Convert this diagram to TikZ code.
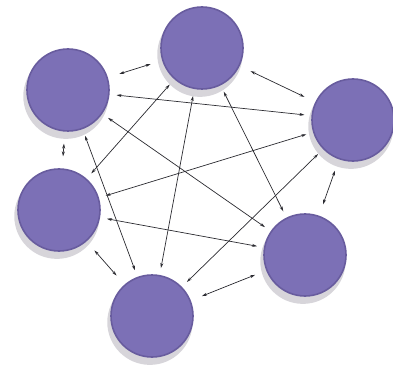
\documentclass[tikz,border=0pt]{standalone}
\usepackage{xcolor}
\usepackage{tikz}
\usetikzlibrary{arrows.meta, shadows}
\definecolor{Peer}{HTML}{7C70B6}
\definecolor{PeerRim}{HTML}{685C9E}
\definecolor{Ink}{HTML}{2A2A30}
\definecolor{Shade}{HTML}{9A97A3}

\begin{document}
\begin{tikzpicture}[
  x=1pt, y=-1pt,
  peer/.style={circle, minimum size=82pt, inner sep=0pt, fill=Peer, draw=PeerRim, line width=1.6pt,
    drop shadow={shadow xshift=-2pt, shadow yshift=-6pt, shadow scale=1.04, opacity=0.4, fill=Shade}},
  link/.style={{Stealth[length=5pt,width=3pt]}-{Stealth[length=5pt,width=3pt]}, line width=0.7pt, draw=Ink, shorten <=7pt, shorten >=7pt},
  ring/.style={link, shorten <=12pt, shorten >=12pt}
]
\useasboundingbox (0,0) rectangle (393,366);
\node[peer] (nw) at (68,90) {};
\node[peer] (n)  at (202,48) {};
\node[peer] (e)  at (353,120) {};
\node[peer] (w)  at (59,210) {};
\node[peer] (se) at (305,255) {};
\node[peer] (s)  at (152,316) {};
% round the ring
\draw[ring] (nw) -- (n);
\draw[ring] (n) -- (e);
\draw[ring] (e) -- (se);
\draw[ring] (se) -- (s);
\draw[ring] (s) -- (w);
\draw[ring] (w) -- (nw);
% across
\draw[link] (nw) -- (e);
\draw[link] (nw) -- (se);
\draw[link] (nw) -- (s);
\draw[link] (n) -- (w);
\draw[link] (n) -- (s);
\draw[link] (n) -- (se);
\draw[link] (e) -- (w);
\draw[link] (e) -- (s);
\draw[link] (w) -- (se);
\end{tikzpicture}
\end{document}
